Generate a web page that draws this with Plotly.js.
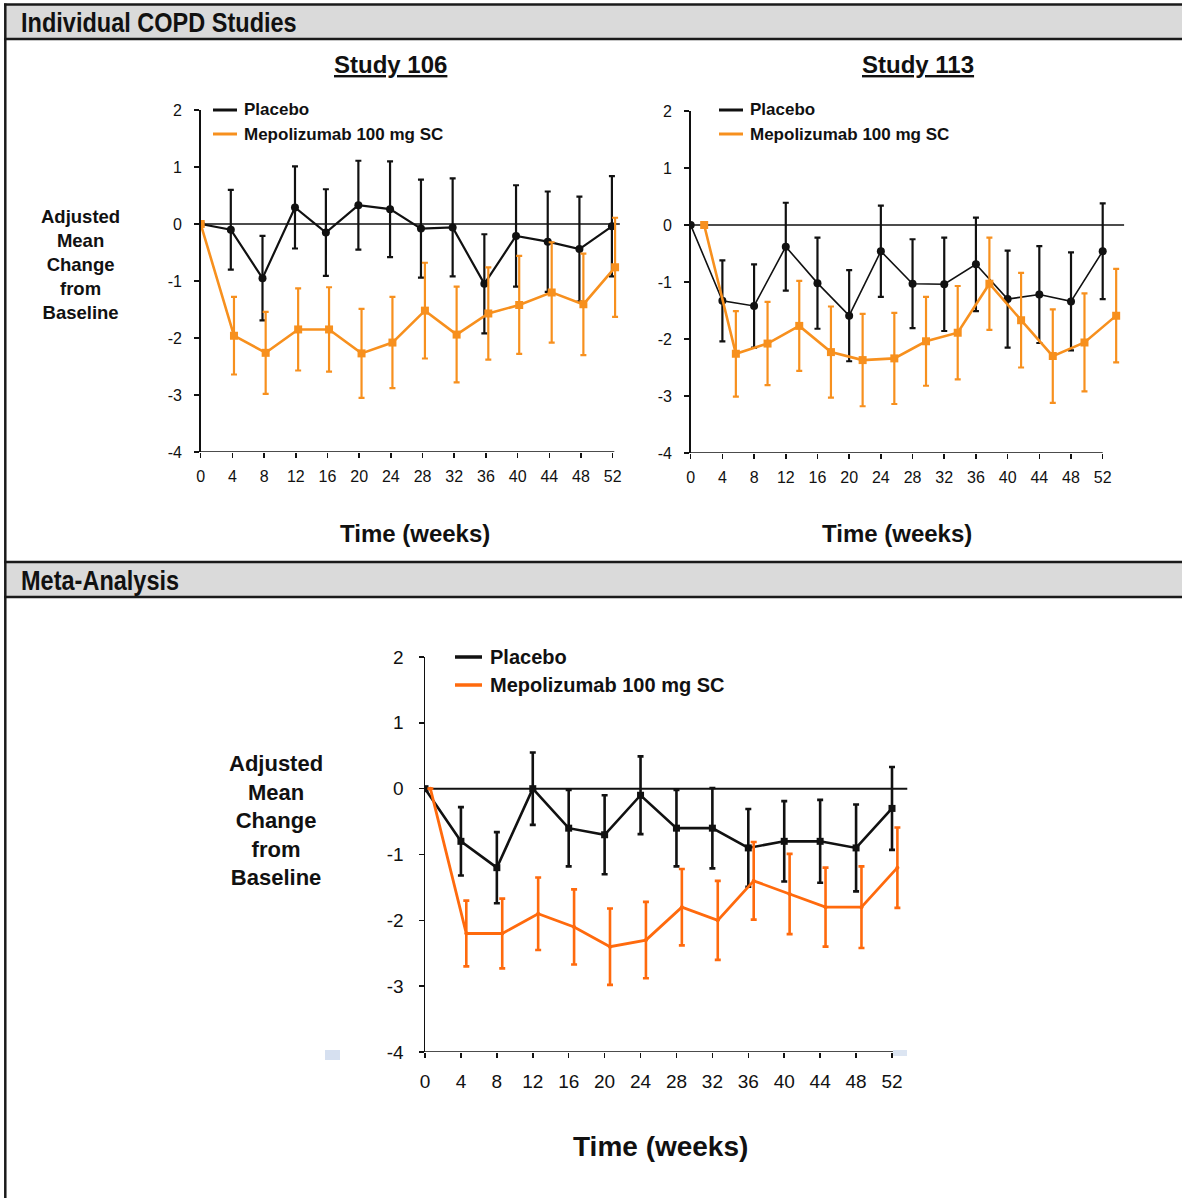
<!DOCTYPE html>
<html>
<head>
<meta charset="utf-8">
<script src="https://cdn.plot.ly/plotly-3.0.1.min.js"></script>
<style>
  html, body { margin: 0; padding: 0; background: #ffffff; }
  #chart { width: 1182px; height: 1198px; }
</style>
</head>
<body>
<div id="chart"></div>
<script>
// Adjusted mean change from baseline over 52 weeks, placebo vs mepolizumab 100 mg SC

const weekTicks = [0, 4, 8, 12, 16, 20, 24, 28, 32, 36, 40, 44, 48, 52];
const yTicks = [2, 1, 0, -1, -2, -3, -4];

// Study 106
const s106PlaceboWeeks = [0, 3.8, 7.8, 11.9, 15.8, 19.9, 23.9, 27.8, 31.8, 35.8, 39.8, 43.8, 47.8, 51.9];
const s106PlaceboMean  = [0, -0.10, -0.95, 0.29, -0.15, 0.33, 0.26, -0.08, -0.06, -1.05, -0.21, -0.31, -0.44, -0.04];
const s106PlaceboErr   = [0, 0.70, 0.74, 0.72, 0.76, 0.78, 0.84, 0.86, 0.86, 0.87, 0.89, 0.88, 0.92, 0.88];
const s106MepoWeeks    = [0, 4.2, 8.2, 12.3, 16.2, 20.3, 24.2, 28.3, 32.3, 36.3, 40.2, 44.3, 48.3, 52.3];
const s106MepoMean     = [0, -1.96, -2.26, -1.85, -1.85, -2.27, -2.08, -1.52, -1.94, -1.57, -1.42, -1.20, -1.41, -0.76];
const s106MepoErr      = [0, 0.68, 0.72, 0.72, 0.74, 0.78, 0.80, 0.84, 0.84, 0.81, 0.86, 0.88, 0.89, 0.87];

// Study 113
const s113PlaceboWeeks = [0, 4, 8, 12, 16, 20, 24, 28, 32, 36, 40, 44, 48, 52];
const s113PlaceboMean  = [0, -1.33, -1.42, -0.38, -1.02, -1.59, -0.46, -1.03, -1.04, -0.69, -1.30, -1.22, -1.34, -0.46];
const s113PlaceboErr   = [0, 0.71, 0.73, 0.77, 0.80, 0.80, 0.80, 0.78, 0.82, 0.82, 0.85, 0.85, 0.86, 0.84];
const s113MepoWeeks    = [1.7, 5.7, 9.7, 13.7, 17.7, 21.7, 25.7, 29.7, 33.7, 37.7, 41.7, 45.7, 49.7, 53.7];
const s113MepoMean     = [0, -2.26, -2.08, -1.77, -2.23, -2.37, -2.34, -2.04, -1.89, -1.03, -1.67, -2.30, -2.06, -1.59];
const s113MepoErr      = [0, 0.75, 0.73, 0.79, 0.80, 0.81, 0.80, 0.78, 0.82, 0.81, 0.83, 0.82, 0.86, 0.82];

// Meta-analysis
const metaPlaceboWeeks = [0, 4, 8, 12, 16, 20, 24, 28, 32, 36, 40, 44, 48, 52];
const metaPlaceboMean  = [0, -0.8, -1.2, 0, -0.6, -0.7, -0.1, -0.6, -0.6, -0.9, -0.8, -0.8, -0.9, -0.3];
const metaPlaceboErr   = [0, 0.52, 0.54, 0.55, 0.58, 0.60, 0.59, 0.58, 0.61, 0.59, 0.61, 0.63, 0.66, 0.63];
const metaMepoWeeks    = [0.6, 4.6, 8.6, 12.6, 16.6, 20.6, 24.6, 28.6, 32.6, 36.6, 40.6, 44.6, 48.6, 52.6];
const metaMepoMean     = [0, -2.2, -2.2, -1.9, -2.1, -2.4, -2.3, -1.8, -2.0, -1.4, -1.6, -1.8, -1.8, -1.2];
const metaMepoErr      = [0, 0.50, 0.53, 0.55, 0.57, 0.58, 0.58, 0.58, 0.60, 0.59, 0.61, 0.60, 0.62, 0.61];

const seriesNames = ['Placebo', 'Mepolizumab 100 mg SC'];
const sectionTitles = ['Individual COPD Studies', 'Meta-Analysis'];
const panelTitles = ['Study 106', 'Study 113'];
const xTitle = 'Time (weeks)';
const yTitleLines = ['Adjusted', 'Mean', 'Change', 'from', 'Baseline'];

// ---- styling ----
const W = 1182, H = 1198;
const fx = px => px / W;
const fy = py => 1 - py / H;
const FONT = '"Liberation Sans", Arial, sans-serif';
const BLACK = '#111111';
const ORANGE = '#f7901e';
const ORANGE_META = '#ff6a0d';
const X_MAX = 55;   // room on the right for the last, slightly offset visit

function placeboTrace(x, y, err, xa, ya, opts) {
  return {
    type: 'scatter', mode: 'lines+markers', x: x, y: y,
    xaxis: xa, yaxis: ya, name: seriesNames[0], showlegend: false,
    line: { color: BLACK, width: opts.lw },
    marker: { color: BLACK, size: opts.ms, symbol: opts.sym },
    error_y: { type: 'data', array: err, visible: true, color: BLACK, thickness: opts.et, width: opts.ew }
  };
}
function mepoTrace(x, y, err, xa, ya, opts) {
  return {
    type: 'scatter', mode: 'lines+markers', x: x, y: y,
    xaxis: xa, yaxis: ya, name: seriesNames[1], showlegend: false,
    line: { color: opts.color, width: opts.lw },
    marker: { color: opts.color, size: opts.ms, symbol: opts.sym },
    error_y: { type: 'data', array: err, visible: true, color: opts.color, thickness: opts.et, width: opts.ew }
  };
}

const data = [
  placeboTrace(s106PlaceboWeeks, s106PlaceboMean, s106PlaceboErr, 'x', 'y', { lw: 2.2, ms: 8, sym: 'circle', et: 2.2, ew: 3 }),
  mepoTrace(s106MepoWeeks, s106MepoMean, s106MepoErr, 'x', 'y', { color: ORANGE, lw: 2.6, ms: 8, sym: 'square', et: 2.2, ew: 3 }),
  placeboTrace(s113PlaceboWeeks, s113PlaceboMean, s113PlaceboErr, 'x2', 'y2', { lw: 1.6, ms: 8, sym: 'circle', et: 2.2, ew: 3 }),
  mepoTrace(s113MepoWeeks, s113MepoMean, s113MepoErr, 'x2', 'y2', { color: ORANGE, lw: 2.6, ms: 8, sym: 'square', et: 2.2, ew: 3 }),
  placeboTrace(metaPlaceboWeeks, metaPlaceboMean, metaPlaceboErr, 'x3', 'y3', { lw: 2.6, ms: 7, sym: 'square', et: 2.6, ew: 3 }),
  mepoTrace(metaMepoWeeks, metaMepoMean, metaMepoErr, 'x3', 'y3', { color: ORANGE_META, lw: 2.8, ms: 4, sym: 'circle', et: 2.6, ew: 3 })
];

// x axes: pixel position of week 0 and week 52, range extends past 52
function xAxis(px0, px52, anchor, size, standoff) {
  const perWeek = (px52 - px0) / 52;
  return {
    domain: [fx(px0), fx(px0 + perWeek * X_MAX)], anchor: anchor, range: [0, X_MAX],
    tickvals: weekTicks, ticktext: weekTicks.map(String),
    showline: false, ticks: 'outside', ticklen: 5, tickwidth: 1.5, tickcolor: BLACK,
    showgrid: false, zeroline: false, fixedrange: true, ticklabelstandoff: standoff,
    tickfont: { family: FONT, size: size, color: BLACK }
  };
}
function yAxis(domain, anchor, size, standoff) {
  return {
    domain: domain, anchor: anchor, range: [-4, 2], tickvals: yTicks, ticktext: yTicks.map(String),
    showline: true, linecolor: BLACK, linewidth: 1.5, ticks: 'outside', ticklen: 5, tickwidth: 1.5, tickcolor: BLACK,
    showgrid: false, zeroline: false, fixedrange: true, ticklabelstandoff: standoff,
    tickfont: { family: FONT, size: size, color: BLACK }
  };
}

const shapes = [
  // section header bands
  { type: 'rect', xref: 'paper', yref: 'paper', x0: fx(5), x1: 1, y0: fy(39), y1: fy(4.5), fillcolor: '#dadada', line: { width: 0 }, layer: 'below' },
  { type: 'line', xref: 'paper', yref: 'paper', x0: fx(4), x1: 1, y0: fy(4.5), y1: fy(4.5), line: { color: '#1a1a1a', width: 2.5 } },
  { type: 'line', xref: 'paper', yref: 'paper', x0: fx(4), x1: 1, y0: fy(39), y1: fy(39), line: { color: '#1a1a1a', width: 2.5 } },
  { type: 'rect', xref: 'paper', yref: 'paper', x0: fx(5), x1: 1, y0: fy(597), y1: fy(562), fillcolor: '#dadada', line: { width: 0 }, layer: 'below' },
  { type: 'line', xref: 'paper', yref: 'paper', x0: fx(4), x1: 1, y0: fy(562), y1: fy(562), line: { color: '#1a1a1a', width: 2.5 } },
  { type: 'line', xref: 'paper', yref: 'paper', x0: fx(4), x1: 1, y0: fy(597), y1: fy(597), line: { color: '#1a1a1a', width: 2.5 } },
  // left frame edge
  { type: 'line', xref: 'paper', yref: 'paper', x0: fx(5.3), x1: fx(5.3), y0: fy(3.5), y1: 0, line: { color: '#1a1a1a', width: 2.5 } },
  // x axis lines (end at the last visit)
  { type: 'line', xref: 'x', yref: 'y', x0: 0, x1: 52.2, y0: -4, y1: -4, line: { color: BLACK, width: 1.5 } },
  { type: 'line', xref: 'x2', yref: 'y2', x0: 0, x1: 52, y0: -4, y1: -4, line: { color: BLACK, width: 1.5 } },
  { type: 'line', xref: 'x3', yref: 'y3', x0: 0, x1: 52.1, y0: -4, y1: -4, line: { color: BLACK, width: 1.5 } },
  // zero reference lines
  { type: 'line', xref: 'x', yref: 'y', x0: 0, x1: 52.9, y0: 0, y1: 0, line: { color: BLACK, width: 1.3 }, layer: 'below' },
  { type: 'line', xref: 'x2', yref: 'y2', x0: 0, x1: 54.7, y0: 0, y1: 0, line: { color: BLACK, width: 1.5 }, layer: 'below' },
  { type: 'line', xref: 'x3', yref: 'y3', x0: 0, x1: 53.7, y0: 0, y1: 0, line: { color: BLACK, width: 2 }, layer: 'below' },
  // small light-blue marks beside the lower axis
  { type: 'rect', xref: 'paper', yref: 'paper', x0: fx(325), x1: fx(340), y0: fy(1060), y1: fy(1050), fillcolor: '#d6e0f0', line: { width: 0 } },
  { type: 'rect', xref: 'paper', yref: 'paper', x0: fx(893), x1: fx(907), y0: fy(1056), y1: fy(1050), fillcolor: '#dce5f2', line: { width: 0 }, layer: 'below' }
];

const annotations = [];
function addText(text, px, py, size, opts) {
  opts = opts || {};
  annotations.push({
    xref: 'paper', yref: 'paper', x: fx(px), y: fy(py), text: text, showarrow: false,
    xanchor: opts.xanchor || 'center', yanchor: 'middle', align: 'center',
    font: { family: FONT, size: size, color: BLACK }
  });
}

// legend key: sample line + label
function legendKey(x0, x1, y, textX, label, color, size, width) {
  shapes.push({ type: 'line', xref: 'paper', yref: 'paper', x0: fx(x0), x1: fx(x1), y0: fy(y), y1: fy(y), line: { color: color, width: width } });
  addText('<b>' + label + '</b>', textX, y, size, { xanchor: 'left' });
}

addText('<b>' + sectionTitles[0] + '</b>', 19, 22, 28, { xanchor: 'left' });
addText('<b>' + sectionTitles[1] + '</b>', 19, 580, 28, { xanchor: 'left' });

addText('<b><u>' + panelTitles[0] + '</u></b>', 390, 64, 24);
addText('<b><u>' + panelTitles[1] + '</u></b>', 918, 64, 24);

addText('<b>' + xTitle + '</b>', 415, 533, 24);
addText('<b>' + xTitle + '</b>', 897, 533, 24);
addText('<b>' + xTitle + '</b>', 660, 1146, 28);

addText('<b>' + yTitleLines.join('<br>') + '</b>', 80, 264, 18.5);
addText('<b>' + yTitleLines.join('<br>') + '</b>', 276, 820, 22);

legendKey(213, 237, 110, 242, seriesNames[0], BLACK, 17, 3);
legendKey(213, 237, 134, 242, seriesNames[1], ORANGE, 17, 3);
legendKey(719, 743, 110, 748, seriesNames[0], BLACK, 17, 3);
legendKey(719, 743, 134, 748, seriesNames[1], ORANGE, 17, 3);
legendKey(455, 482, 657, 488, seriesNames[0], BLACK, 20, 3.5);
legendKey(455, 482, 685, 488, seriesNames[1], ORANGE_META, 20, 3.5);

const layout = {
  width: W, height: H,
  margin: { l: 0, r: 0, t: 0, b: 0, pad: 0 },
  paper_bgcolor: '#ffffff', plot_bgcolor: 'rgba(0,0,0,0)',
  showlegend: false,
  xaxis:  xAxis(200.7, 612.7, 'y', 16, 5),
  yaxis:  yAxis([fy(452), fy(110)], 'x', 16, 9),
  xaxis2: xAxis(690.7, 1102.7, 'y2', 16, 5),
  yaxis2: yAxis([fy(453), fy(111)], 'x2', 16, 9),
  xaxis3: xAxis(425, 892, 'y3', 19, 7),
  yaxis3: yAxis([fy(1052), fy(657)], 'x3', 19, 11),
  shapes: shapes,
  annotations: annotations
};

// section headings are set in a condensed cut: squeeze them horizontally about their left edge
function condenseHeadings() {
  const squeeze = 0.84;
  document.querySelectorAll('#chart .annotation-text').forEach(function (t) {
    if (sectionTitles.indexOf(t.textContent) === -1) return;
    const bb = t.getBBox();
    t.setAttribute('transform', 'translate(' + (bb.x * (1 - squeeze)) + ',0) scale(' + squeeze + ',1)');
  });
}

Plotly.newPlot('chart', data, layout, { displayModeBar: false, staticPlot: true }).then(condenseHeadings);
</script>
</body>
</html>
